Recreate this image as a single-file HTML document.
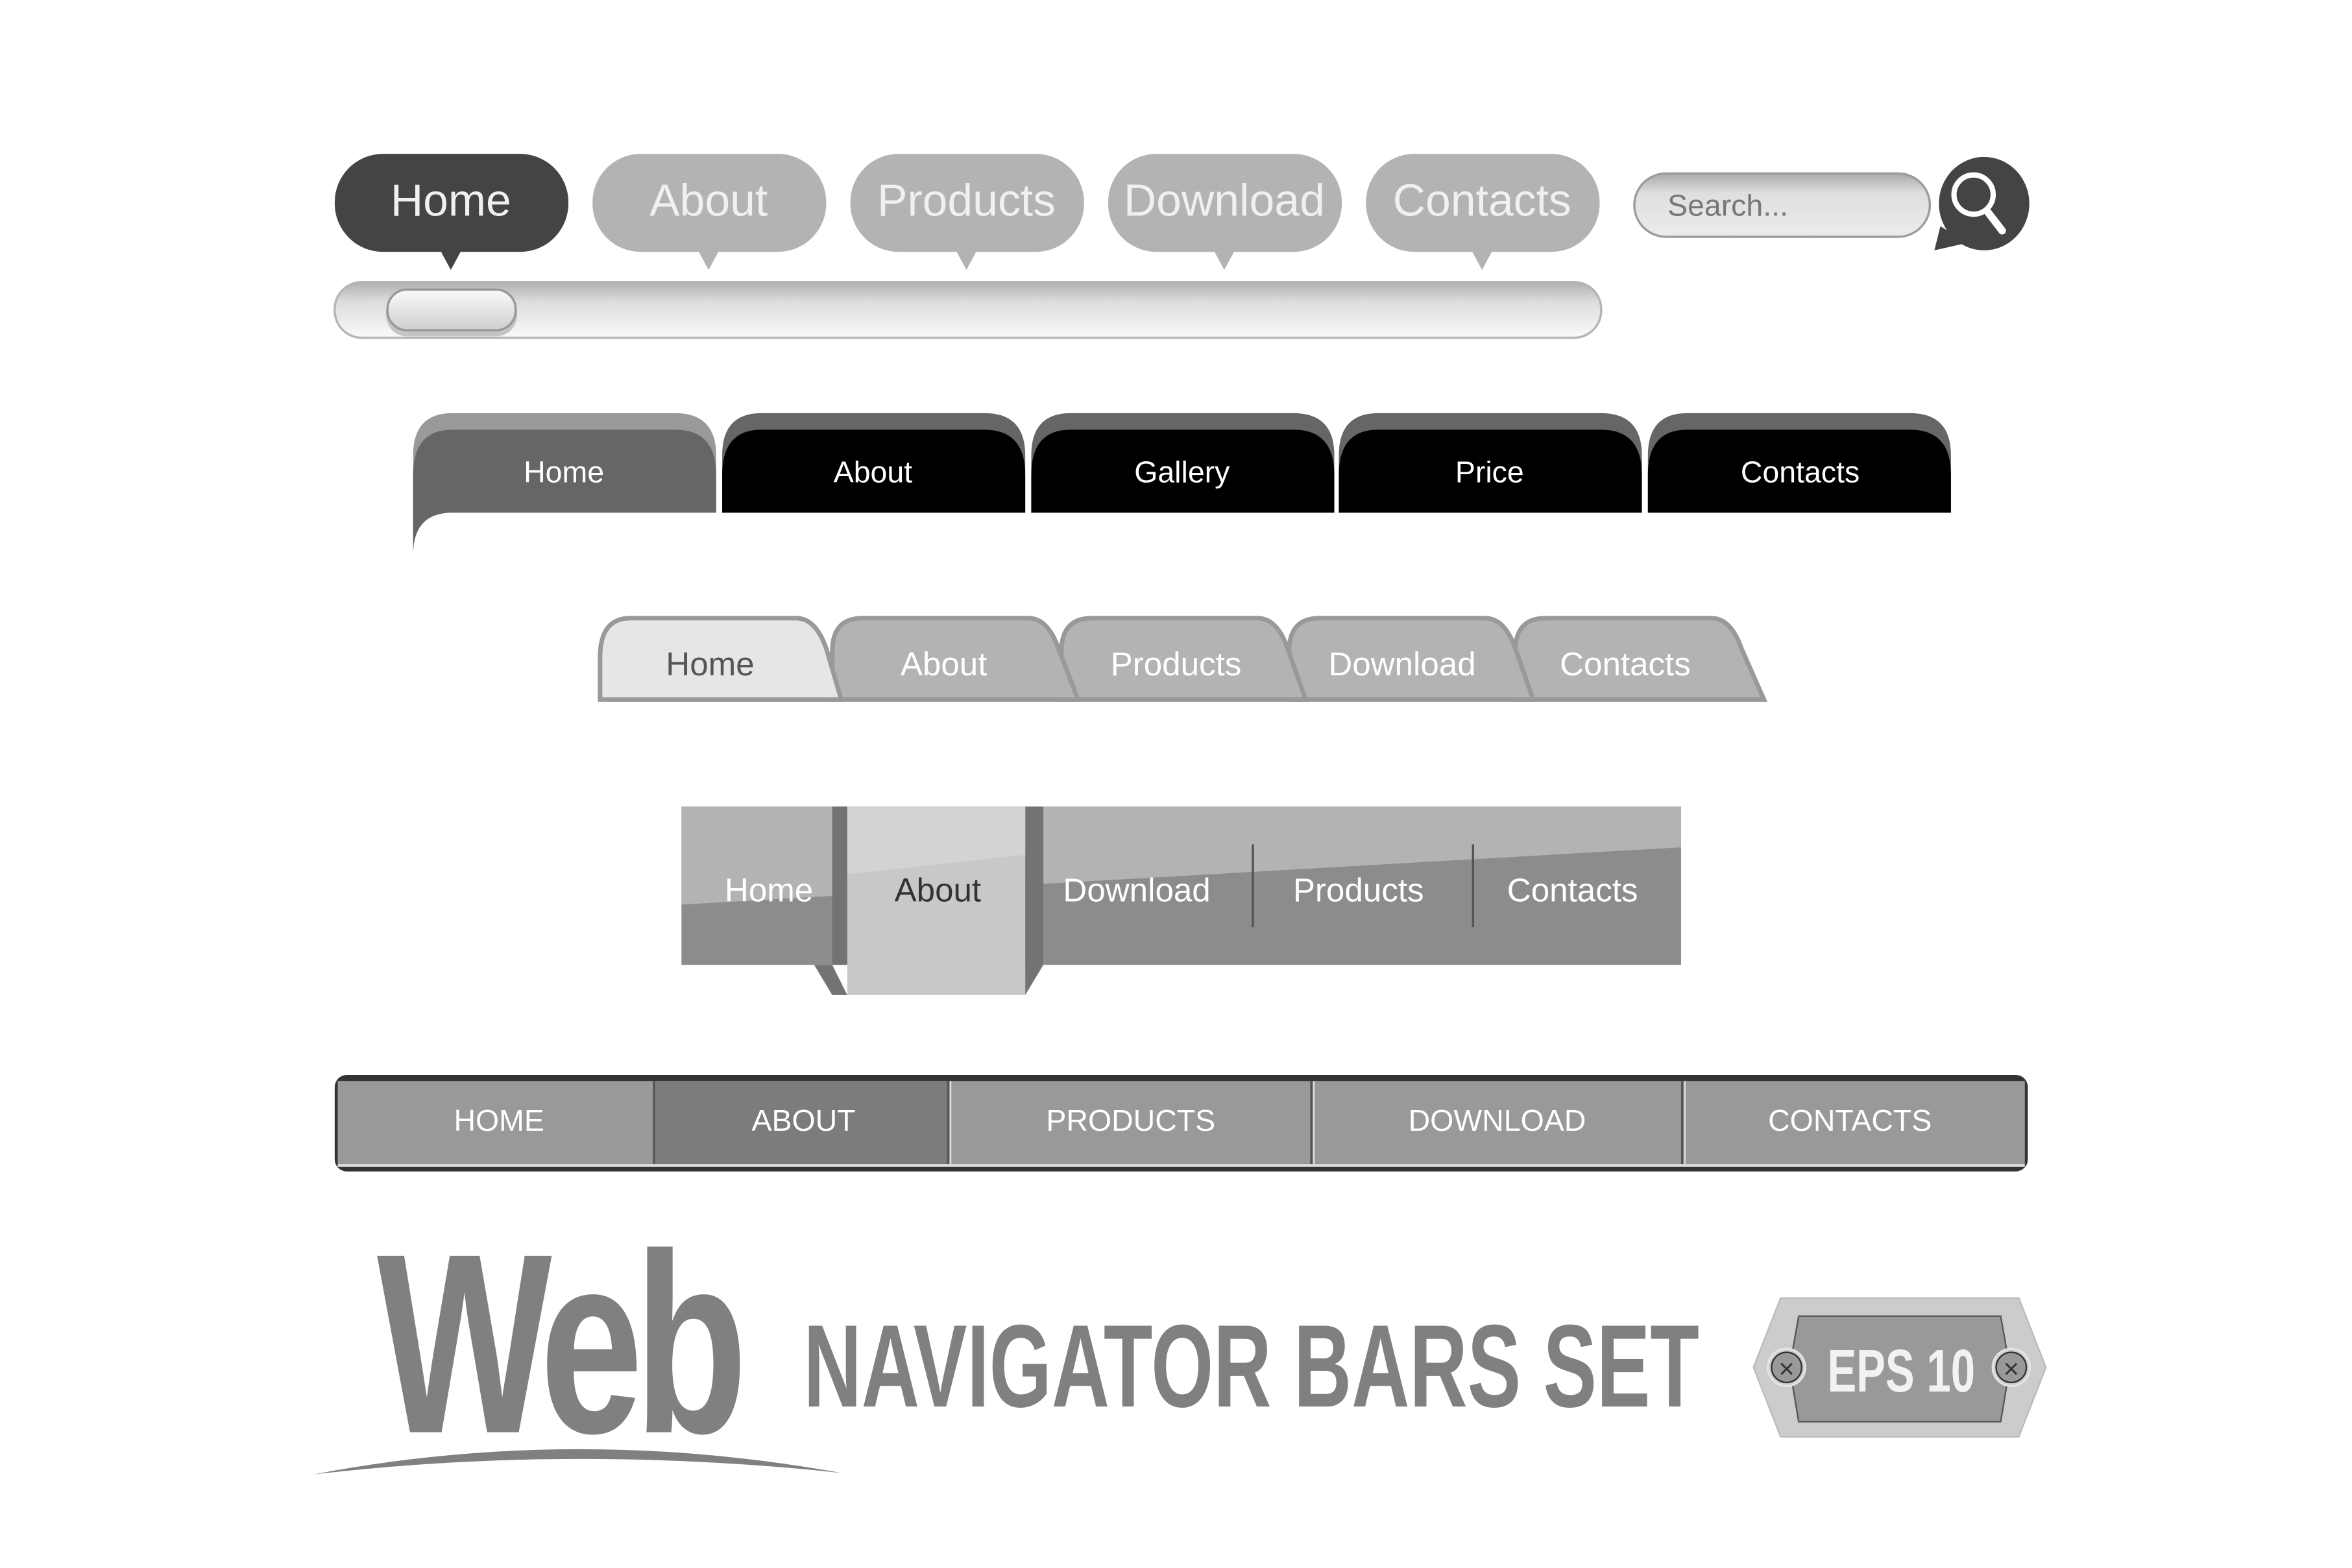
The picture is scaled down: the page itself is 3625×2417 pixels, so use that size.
<!DOCTYPE html>
<html><head><meta charset="utf-8"><style>html,body{margin:0;padding:0;background:#fff}svg{display:block}</style></head><body>
<svg width="3625" height="2417" viewBox="0 0 1560 1040" xmlns="http://www.w3.org/2000/svg" font-family="Liberation Sans, sans-serif">
<defs>
<linearGradient id="bar" x1="0" y1="0" x2="0" y2="1"><stop offset="0" stop-color="#b0b0b0"/><stop offset="0.35" stop-color="#dcdcdc"/><stop offset="1" stop-color="#fafafa"/></linearGradient>
<linearGradient id="knob" x1="0" y1="0" x2="0" y2="1"><stop offset="0" stop-color="#fafafa"/><stop offset="1" stop-color="#cfcfcf"/></linearGradient>
<linearGradient id="srch" x1="0" y1="0" x2="0" y2="1"><stop offset="0" stop-color="#a8a8a8"/><stop offset="0.3" stop-color="#dedede"/><stop offset="1" stop-color="#ececec"/></linearGradient>
<radialGradient id="scr"><stop offset="0.6" stop-color="#999"/><stop offset="1" stop-color="#eee"/></radialGradient>
</defs>
<!-- Row 1 bubbles -->
<g font-size="30" fill="#f0f0f0" text-anchor="middle">
<rect x="222" y="102" width="155" height="65" rx="32" fill="#444"/><polygon points="292,166 306,166 299,179" fill="#444"/><text x="299" y="143">Home</text>
<rect x="393" y="102" width="155" height="65" rx="32" fill="#b3b3b3"/><polygon points="463,166 477,166 470,179" fill="#b3b3b3"/><text x="470" y="143">About</text>
<rect x="564" y="102" width="155" height="65" rx="32" fill="#b3b3b3"/><polygon points="634,166 648,166 641,179" fill="#b3b3b3"/><text x="641" y="143">Products</text>
<rect x="735" y="102" width="155" height="65" rx="32" fill="#b3b3b3"/><polygon points="805,166 819,166 812,179" fill="#b3b3b3"/><text x="812" y="143">Download</text>
<rect x="906" y="102" width="155" height="65" rx="32" fill="#b3b3b3"/><polygon points="976,166 990,166 983,179" fill="#b3b3b3"/><text x="983" y="143">Contacts</text>
</g>
<rect x="1084" y="115" width="196" height="42" rx="21" fill="url(#srch)" stroke="#9c9c9c" stroke-width="1.5"/>
<text x="1106" y="143" font-size="20" fill="#777">Search...</text>
<ellipse cx="1316" cy="135" rx="30" ry="31" fill="#444"/><polygon points="1287,150 1283,166 1305,161" fill="#444"/>
<circle cx="1309" cy="129" r="13" fill="none" stroke="#fff" stroke-width="3.5"/><line x1="1318" y1="140" x2="1328" y2="153" stroke="#fff" stroke-width="5" stroke-linecap="round"/>
<rect x="222" y="187" width="840" height="37" rx="18" fill="url(#bar)" stroke="#b5b5b5" stroke-width="1.5"/>
<rect x="256" y="193" width="87" height="30" rx="14" fill="#c4c4c4"/>
<rect x="257" y="192" width="85" height="27" rx="13" fill="url(#knob)" stroke="#999" stroke-width="1.5"/>
<!-- Row 2 tabs -->
<path d="M274,368 L274,302 Q274,274 300,274 L448,274 Q475,274 475,302 L475,340 L300,340 Q274,340 274,368 Z" fill="#999"/>
<path d="M274,368 L274,315 Q274,285 300,285 L448,285 Q475,285 475,315 L475,340 L300,340 Q274,340 274,368 Z" fill="#666"/>
<g fill="#666"><path d="M479,340 V302 Q479,274 505,274 H653 Q680,274 680,302 V340Z"/><path d="M684,340 V302 Q684,274 710,274 H858 Q885,274 885,302 V340Z"/><path d="M888,340 V302 Q888,274 914,274 H1062 Q1089,274 1089,302 V340Z"/><path d="M1093,340 V302 Q1093,274 1119,274 H1267 Q1294,274 1294,302 V340Z"/></g>
<g fill="#000"><path d="M479,340 V315 Q479,285 505,285 H653 Q680,285 680,315 V340Z"/><path d="M684,340 V315 Q684,285 710,285 H858 Q885,285 885,315 V340Z"/><path d="M888,340 V315 Q888,285 914,285 H1062 Q1089,285 1089,315 V340Z"/><path d="M1093,340 V315 Q1093,285 1119,285 H1267 Q1294,285 1294,315 V340Z"/></g>
<g font-size="20" fill="#fff" text-anchor="middle"><text x="374" y="320">Home</text><text x="579" y="320">About</text><text x="784" y="320">Gallery</text><text x="988" y="320">Price</text><text x="1194" y="320">Contacts</text></g>
<!-- Row 3 tabs -->
<g stroke="#999" stroke-width="3">
<path d="M1005,464 V432 Q1005,410 1025,410 H1135 Q1148,410 1155,430 L1170,464Z" fill="#b3b3b3"/>
<path d="M855,464 V432 Q855,410 875,410 H985 Q998,410 1005,430 L1017,464Z" fill="#b3b3b3"/>
<path d="M704,464 V432 Q704,410 724,410 H834 Q847,410 854,430 L866,464Z" fill="#b3b3b3"/>
<path d="M552,464 V432 Q552,410 572,410 H682 Q695,410 702,430 L715,464Z" fill="#b3b3b3"/>
<path d="M398,464 V436 Q398,410 418,410 H528 Q541,410 548,430 L558,464Z" fill="#e6e6e6"/>
</g>
<g font-size="22" fill="#fff" text-anchor="middle"><text x="471" y="448" fill="#555">Home</text><text x="626" y="448">About</text><text x="780" y="448">Products</text><text x="930" y="448">Download</text><text x="1078" y="448">Contacts</text></g>
<!-- Row 4 -->
<rect x="452" y="535" width="663" height="105" fill="#8c8c8c"/>
<polygon points="452,535 1115,535 1115,562 452,600" fill="#b3b3b3"/>
<polygon points="540,640 552,640 562,660 552,660" fill="#737373"/>
<polygon points="692,640 680,640 680,660" fill="#737373"/>
<rect x="552" y="535" width="10" height="105" fill="#737373"/><rect x="680" y="535" width="12" height="105" fill="#737373"/>
<rect x="562" y="535" width="118" height="125" fill="#c8c8c8"/>
<polygon points="562,535 680,535 680,567 562,580" fill="#d3d3d3"/>
<line x1="831" y1="560" x2="831" y2="615" stroke="#555" stroke-width="1.5"/><line x1="977" y1="560" x2="977" y2="615" stroke="#555" stroke-width="1.5"/>
<g font-size="22" fill="#fff" text-anchor="middle"><text x="510" y="598">Home</text><text x="622" y="598" fill="#333">About</text><text x="754" y="598">Download</text><text x="901" y="598">Products</text><text x="1043" y="598">Contacts</text></g>
<!-- Row 5 -->
<rect x="222" y="713" width="1123" height="64" rx="8" fill="#333"/>
<rect x="224" y="717" width="1119" height="55" fill="#999"/>
<rect x="224" y="772" width="1119" height="2" fill="#ddd"/>
<rect x="434" y="717" width="194" height="55" fill="#7c7c7c"/>
<g fill="#555"><rect x="433" y="717" width="1.5" height="55"/><rect x="628" y="717" width="1.5" height="55"/><rect x="869" y="717" width="1.5" height="55"/><rect x="1115" y="717" width="1.5" height="55"/></g>
<g fill="#ddd"><rect x="630" y="717" width="1" height="55"/><rect x="871" y="717" width="1" height="55"/><rect x="1117" y="717" width="1" height="55"/></g>
<g font-size="20" fill="#fff" text-anchor="middle"><text x="331" y="750">HOME</text><text x="533" y="750">ABOUT</text><text x="750" y="750">PRODUCTS</text><text x="993" y="750">DOWNLOAD</text><text x="1227" y="750">CONTACTS</text></g>
<!-- Title -->
<text x="250" y="950" font-size="170" font-weight="bold" fill="#808080" textLength="240" lengthAdjust="spacingAndGlyphs" font-family="Liberation Sans Narrow, Liberation Sans, sans-serif" letter-spacing="-8">Web</text>
<path d="M208,978 Q380,945 558,977 Q380,958 208,978Z" fill="#808080"/>
<text x="533" y="933" font-size="78" font-weight="bold" fill="#808080" textLength="594" lengthAdjust="spacingAndGlyphs" font-family="Liberation Sans Narrow, Liberation Sans, sans-serif">NAVIGATOR BARS SET</text>
<polygon points="1181,861 1339,861 1357,907 1339,953 1181,953 1163,907" fill="#ccc" stroke="#bbb"/>
<polygon points="1193,873 1327,873 1333,907 1327,943 1193,943 1187,907" fill="#999" stroke="#555"/>
<circle cx="1185" cy="907" r="13" fill="url(#scr)"/><circle cx="1185" cy="907" r="10" fill="#999" stroke="#333"/><text x="1185" y="914" font-size="18" text-anchor="middle" fill="#333">×</text>
<circle cx="1334" cy="907" r="13" fill="url(#scr)"/><circle cx="1334" cy="907" r="10" fill="#999" stroke="#333"/><text x="1334" y="914" font-size="18" text-anchor="middle" fill="#333">×</text>
<text x="1212" y="923" font-size="40" font-weight="bold" fill="#f2f2f2" textLength="98" lengthAdjust="spacingAndGlyphs" font-family="Liberation Sans Narrow, Liberation Sans, sans-serif">EPS 10</text>
</svg>
</body></html>
